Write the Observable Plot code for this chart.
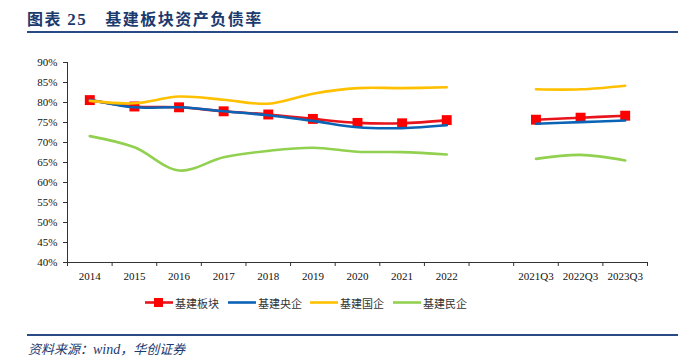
<!DOCTYPE html>
<html>
<head>
<meta charset="utf-8">
<script src="https://cdn.jsdelivr.net/npm/d3@7"></script>
<script src="https://cdn.jsdelivr.net/npm/@observablehq/plot@0.6"></script>
<style>
  html, body { margin: 0; padding: 0; background: #fff; }
  #wrap { position: relative; width: 678px; height: 362px; overflow: hidden; }
  #title { position: absolute; left: 27px; top: 6px; font-family: "Noto Sans CJK SC", sans-serif; font-weight: bold; font-size: 16px; color: #1B3A6E; letter-spacing: 1.5px; white-space: nowrap; }
  #title .num { font-family: "Liberation Serif", serif; font-weight: bold; font-size: 17px; }
  #title .gap { display: inline-block; width: 18px; }
  #tline { position: absolute; left: 27px; top: 31px; width: 651px; height: 2px; background: #2A4A86; }
  #chart { position: absolute; left: 0; top: 40px; }
  #legend { position: absolute; top: 294px; left: 0; width: 678px; font-family: "Noto Sans CJK SC", sans-serif; font-size: 11px; color: #333; }
  .item { position: absolute; display: flex; align-items: center; white-space: nowrap; }
  #fline { position: absolute; left: 27px; top: 334px; width: 651px; height: 1.5px; background: #2A4A86; }
  #source { position: absolute; left: 28px; top: 339px; font-family: "Noto Sans CJK SC", sans-serif; font-style: italic; font-size: 13px; color: #1B3A6E; white-space: nowrap; }
  #source .w { font-family: "Liberation Serif", serif; font-style: italic; font-size: 14px; }
</style>
</head>
<body>
<div id="wrap">
  <div id="title">图表 <span class="num">25</span><span class="gap"></span>基建板块资产负债率</div>
  <div id="tline"></div>
  <div id="chart"></div>
  <div id="legend"></div>
  <div id="fline"></div>
  <div id="source">资料来源：<span class="w">wind</span>，华创证券</div>
</div>
<script>
const categories = ["2014","2015","2016","2017","2018","2019","2020","2021","2022","","2021Q3","2022Q3","2023Q3"];
const boardValues   = [80.6, 79.0, 78.8, 77.8, 77.0, 75.9, 74.9, 74.8, 75.6, null, 75.7, 76.2, 76.7];
const centralValues = [80.7, 78.8, 78.8, 77.8, 76.8, 75.4, 73.8, 73.6, 74.3, null, 74.7, 75.1, 75.5];
const stateValues   = [80.4, 79.8, 81.5, 80.7, 79.7, 82.2, 83.6, 83.6, 83.8, null, 83.3, 83.3, 84.2];
const privateValues = [71.6, 68.8, 63.0, 66.3, 67.9, 68.7, 67.7, 67.6, 67.0, null, 65.9, 66.9, 65.5];
const yTicks = [40, 45, 50, 55, 60, 65, 70, 75, 80, 85, 90];
const seriesNames = ["基建板块", "基建央企", "基建国企", "基建民企"];
const seriesColors = ["#E8141C", "#0B63B5", "#FFC000", "#92D050"];

const rows = categories.map((c, i) => ({
  i, c,
  board: boardValues[i], central: centralValues[i],
  state: stateValues[i], priv: privateValues[i]
}));

const lineOpts = (key, color) => ({
  x: "i", y: d => d[key] == null ? NaN : d[key],
  curve: "catmull-rom", stroke: color, strokeWidth: 2.6
});

const chart = Plot.plot({
  width: 678, height: 250,
  marginLeft: 67, marginRight: 31, marginTop: 22, marginBottom: 28,
  style: { fontFamily: "'Liberation Serif', 'Times New Roman', serif", fontSize: "11px", color: "#111", background: "transparent" },
  x: { type: "linear", domain: [-0.5, categories.length - 0.5], axis: null },
  y: { domain: [40, 90], axis: null },
  marks: [
    Plot.axisY({ ticks: yTicks, tickFormat: d => d + "%", tickSize: 4, tickPadding: 6, stroke: "#333", label: null, fontSize: 11 }),
    Plot.axisX({ ticks: d3.range(categories.length), tickFormat: i => categories[i], tickSize: 0, tickPadding: 10, label: null, fontSize: 11 }),
    Plot.axisX({ ticks: d3.range(categories.length + 1).map(i => i - 0.5), tickFormat: () => "", tickSize: 4, stroke: "#333", label: null }),
    Plot.ruleY([40], { stroke: "#333" }),
    Plot.ruleX([-0.5], { stroke: "#333" }),
    Plot.line(rows, lineOpts("board", seriesColors[0])),
    Plot.dot(rows, { x: "i", y: d => d.board == null ? NaN : d.board, symbol: "square", fill: "#FF0000", r: 5.6 }),
    Plot.line(rows, lineOpts("central", seriesColors[1])),
    Plot.line(rows, lineOpts("state", seriesColors[2])),
    Plot.line(rows, lineOpts("priv", seriesColors[3]))
  ]
});
document.getElementById("chart").appendChild(chart);

// legend
const legend = document.getElementById("legend");
const legendX = [145, 228, 310, 393];
seriesNames.forEach((name, k) => {
  const item = document.createElement("div");
  item.className = "item";
  item.style.left = legendX[k] + "px";
  const marker = k === 0 ? '<rect x="9" y="4" width="9" height="9" fill="#FF0000"/>' : "";
  item.innerHTML = `<svg width="28" height="17"><line x1="0" x2="28" y1="8.5" y2="8.5" stroke="${seriesColors[k]}" stroke-width="2.6"/>${marker}</svg><span style="margin-left:2px">${name}</span>`;
  legend.appendChild(item);
});
</script>
</body>
</html>
